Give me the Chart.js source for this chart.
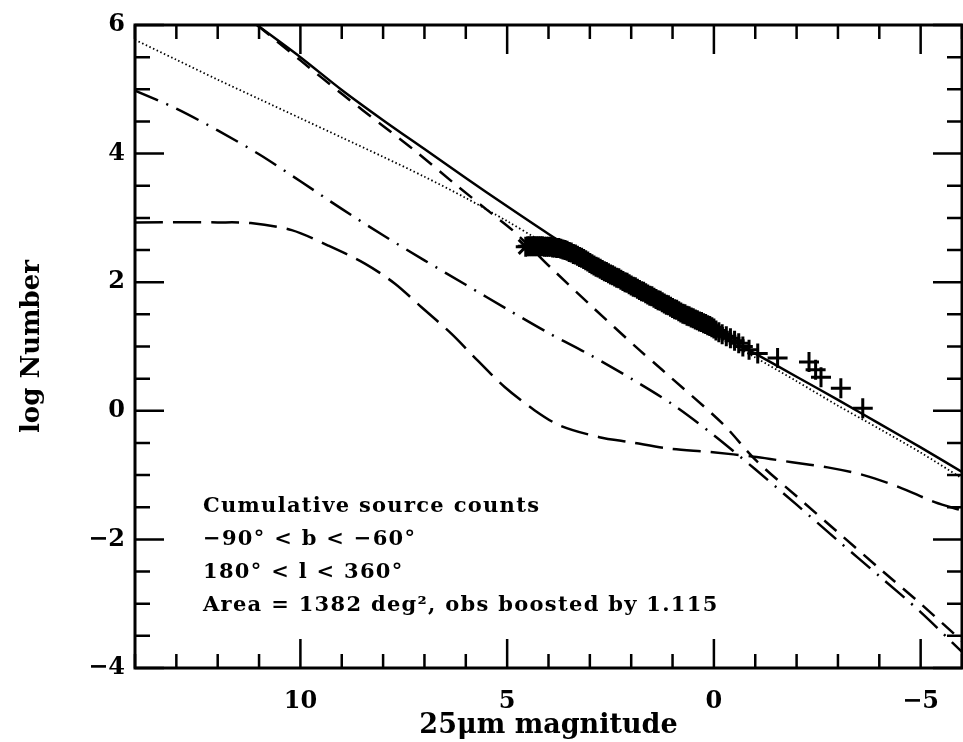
<!DOCTYPE html>
<html>
<head>
<meta charset="utf-8">
<script src="https://cdn.jsdelivr.net/npm/chart.js@4.4.1/dist/chart.umd.min.js"></script>
<style>
  html, body { margin: 0; padding: 0; background: #fff; }
</style>
</head>
<body>
<canvas id="countsChart" width="963" height="742"></canvas>
<script>
// Observed cumulative counts (25um magnitude, log N)
const obsMag = [4.55, 4.50, 4.45, 4.40, 4.35, 4.30, 4.25, 4.20, 4.15, 4.10, 4.05, 4.00, 3.95, 3.90, 3.85,
  3.80, 3.75, 3.70, 3.65, 3.60, 3.55, 3.50, 3.45, 3.40, 3.35, 3.30, 3.25, 3.20, 3.15, 3.10, 3.05, 3.00,
  2.95, 2.90, 2.85, 2.80, 2.75, 2.70, 2.65, 2.60, 2.55, 2.50, 2.45, 2.40, 2.35, 2.30, 2.25, 2.20, 2.15,
  2.10, 2.05, 2.00, 1.95, 1.90, 1.85, 1.80, 1.75, 1.70, 1.65, 1.60, 1.55, 1.50, 1.45, 1.40, 1.35, 1.30,
  1.25, 1.20, 1.15, 1.10, 1.05, 1.00, 0.95, 0.90, 0.85, 0.80, 0.75, 0.70, 0.65, 0.60, 0.55, 0.50, 0.45,
  0.40, 0.35, 0.30, 0.25, 0.20, 0.15, 0.10, 0.05, 0.00, -0.05, -0.12, -0.2, -0.3, -0.4, -0.5, -0.6,
  -0.7, -0.85, -1.06, -1.54, -2.30, -2.46, -2.59, -3.07, -3.60];
const obsLogN = [2.55, 2.56, 2.56, 2.56, 2.56, 2.56, 2.56, 2.56, 2.56, 2.55, 2.55, 2.55, 2.55, 2.54, 2.54,
  2.53, 2.53, 2.52, 2.51, 2.50, 2.49, 2.47, 2.46, 2.44, 2.43, 2.41, 2.39, 2.38, 2.36, 2.34, 2.32, 2.30,
  2.28, 2.26, 2.24, 2.23, 2.21, 2.19, 2.17, 2.16, 2.14, 2.12, 2.11, 2.09, 2.07, 2.06, 2.04, 2.02, 2.00,
  1.99, 1.97, 1.95, 1.93, 1.92, 1.90, 1.88, 1.86, 1.85, 1.83, 1.81, 1.79, 1.78, 1.76, 1.74, 1.72, 1.71,
  1.69, 1.67, 1.65, 1.64, 1.62, 1.60, 1.58, 1.57, 1.55, 1.53, 1.51, 1.50, 1.48, 1.47, 1.45, 1.44, 1.42,
  1.41, 1.39, 1.38, 1.36, 1.35, 1.33, 1.32, 1.30, 1.28, 1.25, 1.22, 1.19, 1.16, 1.13, 1.09, 1.05,
  1.00, 0.95, 0.89, 0.82, 0.76, 0.64, 0.52, 0.35, 0.04];

// Model: total (solid)
const totalMag = [11.05, 10, 9, 8, 7, 6, 5, 4, 3, 2, 1, 0, -1, -2, -3, -4, -5, -6];
const totalLogN = [6.0, 5.5, 4.99, 4.52, 4.07, 3.62, 3.18, 2.75, 2.34, 1.95, 1.58, 1.24, 0.89, 0.53, 0.17, -0.2, -0.57, -0.95];

// Model component (short dashes)
const dashMag = [11.05, 10, 9, 8, 7.24, 6.27, 5.38, 4.82, 3.95, 2.93, 1.88, 1.24, -0.21, -1, -2, -3, -4, -5, -6];
const dashLogN = [6.0, 5.45, 4.93, 4.43, 4.05, 3.53, 3.07, 2.78, 2.23, 1.61, 0.99, 0.63, -0.2, -0.76, -1.33, -1.89, -2.45, -3.0, -3.58];

// Model component (dash-dot)
const dotDashMag = [14, 13, 12, 11, 10, 9, 8, 7, 6, 5, 4, 3, 2, 1, 0, -1, -2, -3, -4, -5, -6];
const dotDashLogN = [4.98, 4.70, 4.36, 3.99, 3.57, 3.14, 2.73, 2.34, 1.96, 1.58, 1.21, 0.87, 0.50, 0.10, -0.38, -0.91, -1.46, -2.02, -2.57, -3.13, -3.75];

// Model component (long dashes)
const longDashMag = [14, 12, 11.2, 10.21, 9.33, 8.44, 7.72, 7.07, 6.35, 5.71, 5.06, 4.34, 3.72, 2.77, 2.0,
  1.05, 0.09, -1.03, -1.89, -2.75, -3.62, -4.49, -5.34, -6];
const longDashLogN = [2.93, 2.93, 2.92, 2.81, 2.57, 2.29, 1.98, 1.61, 1.20, 0.78, 0.37, 0.01, -0.23, -0.41, -0.49,
  -0.59, -0.64, -0.72, -0.80, -0.88, -1.0, -1.19, -1.42, -1.55];

// Model component (dotted)
const dottedMag = [14, 13, 12, 11, 10, 9, 8, 7, 6, 5, 4.34, 3, 2, 1, 0, -1, -2, -3, -4, -5, -6];
const dottedLogN = [5.77, 5.46, 5.15, 4.85, 4.55, 4.25, 3.95, 3.64, 3.31, 2.95, 2.70, 2.23, 1.88, 1.53, 1.19, 0.83, 0.46, 0.08, -0.28, -0.65, -1.05];

const xLabelTicks = [10, 5, 0, -5];
const yLabelTicks = [-4, -2, 0, 2, 4, 6];
const noteLines = [
  'Cumulative source counts',
  '\u221290\u00b0 < b < \u221260\u00b0',
  '180\u00b0 < l < 360\u00b0',
  'Area = 1382 deg\u00b2, obs boosted by 1.115'
];

const toPoints = (xs, ys) => xs.map((x, i) => ({ x: x, y: ys[i] }));
const fmt = v => (v < 0 ? '\u2212' + Math.abs(v) : String(v));
const serif = '"DejaVu Serif", "Liberation Serif", serif';

// frame with inward ticks on all four sides
const frameTicks = {
  id: 'frameTicks',
  afterDatasetsDraw(chart) {
    const { ctx, chartArea: a, scales: { x, y } } = chart;
    ctx.save();
    ctx.strokeStyle = '#000';
    ctx.lineWidth = 3;
    ctx.strokeRect(a.left, a.top, a.right - a.left, a.bottom - a.top);
    ctx.lineWidth = 2.5;
    ctx.beginPath();
    for (let v = Math.ceil(x.min); v <= x.max; v++) {
      const px = x.getPixelForValue(v);
      const len = v % 5 === 0 ? 29 : 14;
      ctx.moveTo(px, a.bottom); ctx.lineTo(px, a.bottom - len);
      ctx.moveTo(px, a.top); ctx.lineTo(px, a.top + len);
    }
    for (let v = y.min; v <= y.max + 1e-9; v += 0.5) {
      const py = y.getPixelForValue(v);
      const len = Math.abs(v % 2) < 1e-9 ? 29 : 15;
      ctx.moveTo(a.left, py); ctx.lineTo(a.left + len, py);
      ctx.moveTo(a.right, py); ctx.lineTo(a.right - len, py);
    }
    ctx.stroke();
    ctx.restore();
  }
};

const noteText = {
  id: 'noteText',
  afterDatasetsDraw(chart) {
    const { ctx } = chart;
    ctx.save();
    ctx.fillStyle = '#000';
    ctx.font = 'bold 21px ' + serif;
    ctx.letterSpacing = '1.3px';
    ctx.textBaseline = 'middle';
    noteLines.forEach((t, i) => ctx.fillText(t, 203, 507 + i * 33));
    ctx.restore();
  }
};

const ctx = document.getElementById('countsChart').getContext('2d');
new Chart(ctx, {
  type: 'scatter',
  data: {
    datasets: [
      {
        label: 'Observed',
        data: toPoints(obsMag, obsLogN),
        showLine: false,
        pointStyle: obsMag.map((m, i) => (i === 0 ? 'star' : 'cross')),
        pointRadius: 10,
        pointBorderWidth: 3,
        borderColor: '#000',
        backgroundColor: '#000'
      },
      {
        label: 'Total',
        type: 'line',
        data: toPoints(totalMag, totalLogN),
        borderColor: '#000',
        borderWidth: 2.5,
        pointRadius: 0,
        tension: 0.3
      },
      {
        label: 'Dashed',
        type: 'line',
        data: toPoints(dashMag, dashLogN),
        borderColor: '#000',
        borderWidth: 2.5,
        borderDash: [16, 10],
        pointRadius: 0,
        tension: 0.3
      },
      {
        label: 'Dash-dot',
        type: 'line',
        data: toPoints(dotDashMag, dotDashLogN),
        borderColor: '#000',
        borderWidth: 2.5,
        borderDash: [25, 9, 2, 9],
        pointRadius: 0,
        tension: 0.3
      },
      {
        label: 'Long dash',
        type: 'line',
        data: toPoints(longDashMag, longDashLogN),
        borderColor: '#000',
        borderWidth: 2.5,
        borderDash: [28, 10],
        pointRadius: 0,
        tension: 0.3
      },
      {
        label: 'Dotted',
        type: 'line',
        data: toPoints(dottedMag, dottedLogN),
        borderColor: '#000',
        borderWidth: 1.8,
        borderDash: [1.5, 2.5],
        pointRadius: 0,
        tension: 0.3
      }
    ]
  },
  options: {
    responsive: false,
    animation: false,
    devicePixelRatio: 1,
    layout: { autoPadding: false, padding: { top: 25, right: 1, left: 0, bottom: 0 } },
    plugins: { legend: { display: false }, tooltip: { enabled: false } },
    scales: {
      x: {
        type: 'linear',
        reverse: true,
        min: -6,
        max: 14,
        afterBuildTicks: s => { s.ticks = xLabelTicks.map(v => ({ value: v })); },
        afterFit: s => { s.height = 74; s.paddingLeft = 0; s.paddingRight = 0; },
        grid: { display: false, drawTicks: false },
        border: { display: false },
        ticks: {
          color: '#000',
          padding: 19,
          maxRotation: 0,
          font: { family: serif, size: 24, weight: 'bold' },
          callback: v => fmt(v)
        },
        title: {
          display: true,
          text: '25\u03bcm magnitude',
          color: '#000',
          font: { family: serif, size: 27, weight: 'bold', lineHeight: 1.2 },
          padding: { top: 0, bottom: 0 }
        }
      },
      y: {
        type: 'linear',
        min: -4,
        max: 6,
        afterBuildTicks: s => { s.ticks = yLabelTicks.map(v => ({ value: v })); },
        afterFit: s => { s.width = 135; s.paddingTop = 0; s.paddingBottom = 0; },
        grid: { display: false, drawTicks: false },
        border: { display: false },
        ticks: {
          color: '#000',
          padding: 10,
          font: { family: serif, size: 24, weight: 'bold' },
          callback: v => fmt(v)
        },
        title: {
          display: true,
          text: 'log Number',
          color: '#000',
          font: { family: serif, size: 26, weight: 'bold', lineHeight: 1.2 },
          padding: { top: 17, bottom: 0 }
        }
      }
    }
  },
  plugins: [frameTicks, noteText]
});
</script>
</body>
</html>
